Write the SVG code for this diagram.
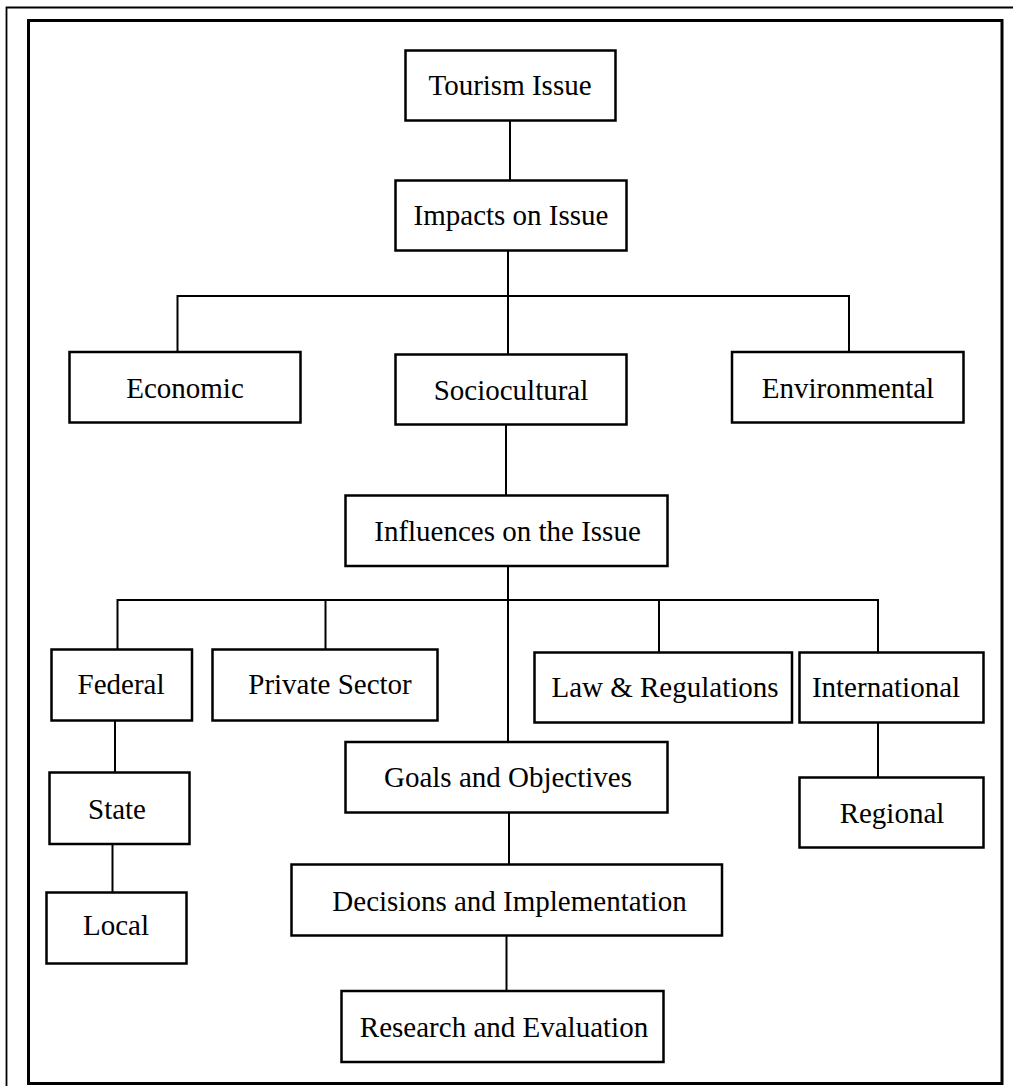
<svg xmlns="http://www.w3.org/2000/svg" width="1013" height="1086" viewBox="0 0 1013 1086">
<style>
.box{fill:#fff;stroke:#000;stroke-width:2.5}
.lbl{font-family:"Liberation Serif","Times New Roman",serif;font-size:29px;fill:#000;text-anchor:middle}
.con{stroke:#000;stroke-width:2;fill:none}
</style>
<rect width="1013" height="1086" fill="#fff"/>
<g id="frame">
<path d="M6.5,1086 V7.5 H1013" fill="none" stroke="#000" stroke-width="1.8"/>
<rect x="28.5" y="20.5" width="973.5" height="1063" fill="none" stroke="#000" stroke-width="3"/>
</g>
<g id="connectors">
<path class="con" d="M510,120 V180"/>
<path class="con" d="M508,251 V296"/>
<path class="con" d="M177.5,352 V296 H849 V352"/>
<path class="con" d="M508,296 V354"/>
<path class="con" d="M506,425 V495"/>
<path class="con" d="M508,566 V742"/>
<path class="con" d="M117.5,649 V600 H878 V652"/>
<path class="con" d="M325.5,600 V649"/>
<path class="con" d="M659,600 V652"/>
<path class="con" d="M115,721 V772"/>
<path class="con" d="M878,722 V777"/>
<path class="con" d="M112.5,844 V892"/>
<path class="con" d="M509,812 V864"/>
<path class="con" d="M506.5,936 V991"/>
</g>
<g id="n-tourism"><rect class="box" x="405.5" y="50.5" width="210" height="70"/><text class="lbl" x="510" y="95">Tourism Issue</text></g>
<g id="n-impacts"><rect class="box" x="395.5" y="180.5" width="231" height="70"/><text class="lbl" x="511" y="225">Impacts on Issue</text></g>
<g id="n-economic"><rect class="box" x="69.5" y="352" width="231" height="70.5"/><text class="lbl" x="185" y="398">Economic</text></g>
<g id="n-sociocultural"><rect class="box" x="395.5" y="354.5" width="231" height="70"/><text class="lbl" x="511" y="400">Sociocultural</text></g>
<g id="n-environmental"><rect class="box" x="732" y="352" width="231.5" height="70.5"/><text class="lbl" x="848" y="398">Environmental</text></g>
<g id="n-influences"><rect class="box" x="345.5" y="495.5" width="322" height="70.5"/><text class="lbl" x="507.5" y="541">Influences on the Issue</text></g>
<g id="n-federal"><rect class="box" x="51.5" y="649.5" width="140.5" height="71"/><text class="lbl" x="121" y="694">Federal</text></g>
<g id="n-private"><rect class="box" x="212.5" y="649.5" width="225" height="71"/><text class="lbl" x="330" y="694">Private Sector</text></g>
<g id="n-law"><rect class="box" x="534.5" y="652.5" width="257.5" height="70"/><text class="lbl" x="665" y="697">Law &amp; Regulations</text></g>
<g id="n-international"><rect class="box" x="799.5" y="652.5" width="184" height="70"/><text class="lbl" x="886" y="697">International</text></g>
<g id="n-state"><rect class="box" x="49.5" y="772.5" width="140" height="71.5"/><text class="lbl" x="117" y="819">State</text></g>
<g id="n-goals"><rect class="box" x="345.5" y="742" width="322" height="70.5"/><text class="lbl" x="508" y="787">Goals and Objectives</text></g>
<g id="n-regional"><rect class="box" x="799.5" y="777.5" width="184" height="70"/><text class="lbl" x="892" y="823">Regional</text></g>
<g id="n-local"><rect class="box" x="46.5" y="892.5" width="140" height="71"/><text class="lbl" x="116" y="935">Local</text></g>
<g id="n-decisions"><rect class="box" x="291.5" y="864.5" width="430.5" height="71"/><text class="lbl" x="509.5" y="911">Decisions and Implementation</text></g>
<g id="n-research"><rect class="box" x="341.5" y="991" width="322" height="71"/><text class="lbl" x="504" y="1037">Research and Evaluation</text></g>
</svg>
